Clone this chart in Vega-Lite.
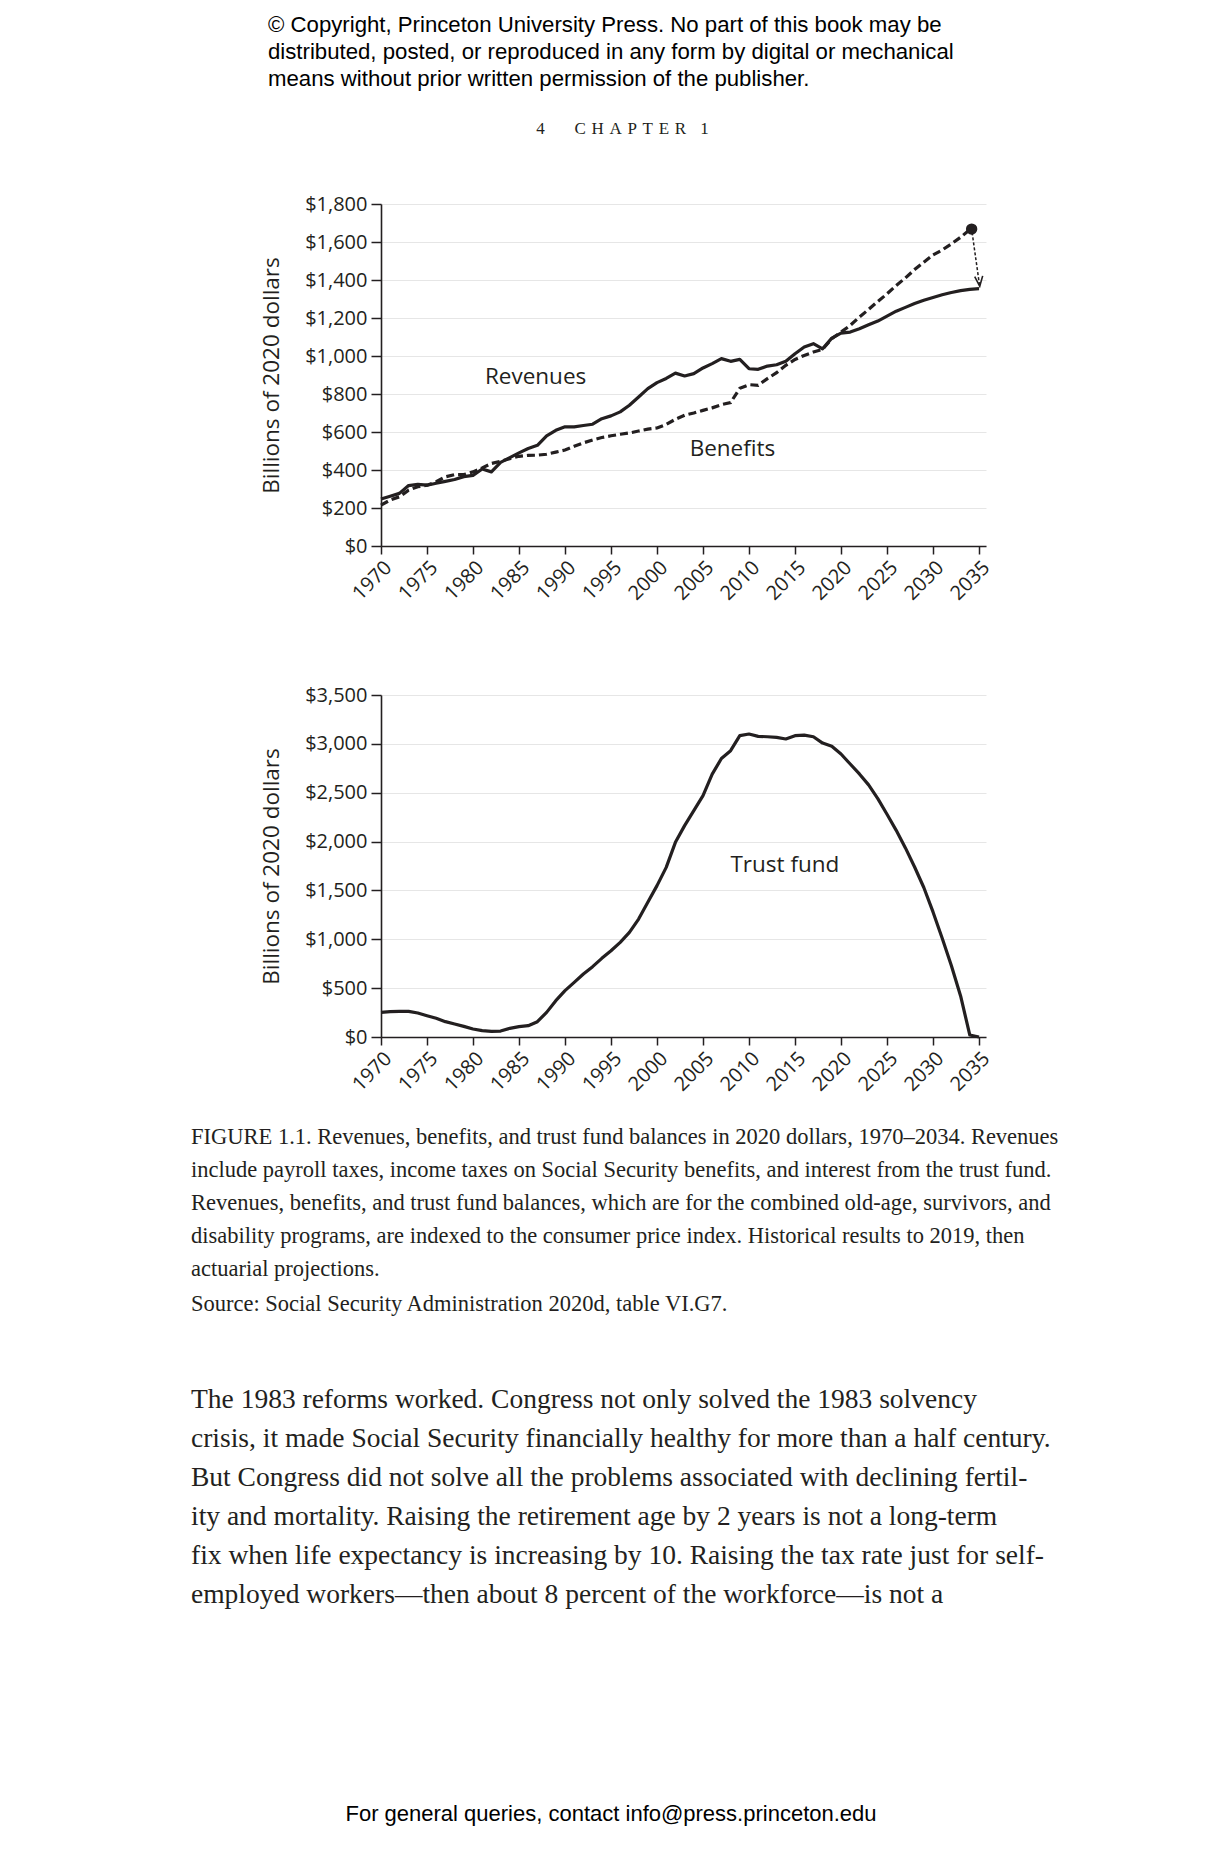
{
  "$schema": "https://vega.github.io/schema/vega-lite/v6.json",
  "background": "white",
  "padding": {"left": 191, "top": 13, "right": 5, "bottom": 5},
  "autosize": {"type": "pad"},
  "config": {
    "view": {"stroke": null},
    "axis": {
      "labelFont": "Open Sans", "labelFontSize": 20, "labelColor": "#231f20",
      "titleFont": "Open Sans", "titleFontSize": 22.5, "titleFontWeight": "normal", "titleColor": "#231f20",
      "domainColor": "#231f20", "domainWidth": 1.6, "tickColor": "#231f20", "tickWidth": 1.5
    }
  },
  "datasets": {
    "revenues": [
      {"year":1970,"value":247},{"year":1971,"value":262},{"year":1972,"value":277},{"year":1973,"value":318},{"year":1974,"value":324},
      {"year":1975,"value":320},{"year":1976,"value":330},{"year":1977,"value":340},{"year":1978,"value":350},{"year":1979,"value":365},
      {"year":1980,"value":372},{"year":1981,"value":405},{"year":1982,"value":390},{"year":1983,"value":440},{"year":1984,"value":465},
      {"year":1985,"value":490},{"year":1986,"value":513},{"year":1987,"value":530},{"year":1988,"value":580},{"year":1989,"value":609},
      {"year":1990,"value":627},{"year":1991,"value":627},{"year":1992,"value":634},{"year":1993,"value":641},{"year":1994,"value":670},
      {"year":1995,"value":685},{"year":1996,"value":706},{"year":1997,"value":741},{"year":1998,"value":784},{"year":1999,"value":828},
      {"year":2000,"value":860},{"year":2001,"value":882},{"year":2002,"value":910},{"year":2003,"value":895},{"year":2004,"value":907},
      {"year":2005,"value":937},{"year":2006,"value":960},{"year":2007,"value":986},{"year":2008,"value":972},{"year":2009,"value":982},
      {"year":2010,"value":933},{"year":2011,"value":930},{"year":2012,"value":947},{"year":2013,"value":954},{"year":2014,"value":972},
      {"year":2015,"value":1012},{"year":2016,"value":1047},{"year":2017,"value":1065},{"year":2018,"value":1038},{"year":2019,"value":1094},
      {"year":2020,"value":1120},{"year":2021,"value":1126},{"year":2022,"value":1143},{"year":2023,"value":1164},{"year":2024,"value":1184},
      {"year":2025,"value":1210},{"year":2026,"value":1236},{"year":2027,"value":1256},{"year":2028,"value":1276},{"year":2029,"value":1293},
      {"year":2030,"value":1308},{"year":2031,"value":1322},{"year":2032,"value":1334},{"year":2033,"value":1344},{"year":2034,"value":1351},
      {"year":2035,"value":1355}
    ],
    "benefits": [
      {"year":1970,"value":215},{"year":1971,"value":242},{"year":1972,"value":259},{"year":1973,"value":294},{"year":1974,"value":312},
      {"year":1975,"value":320},{"year":1976,"value":338},{"year":1977,"value":364},{"year":1978,"value":376},{"year":1979,"value":376},
      {"year":1980,"value":390},{"year":1981,"value":411},{"year":1982,"value":434},{"year":1983,"value":446},{"year":1984,"value":460},
      {"year":1985,"value":472},{"year":1986,"value":477},{"year":1987,"value":478},{"year":1988,"value":483},{"year":1989,"value":494},
      {"year":1990,"value":505},{"year":1991,"value":525},{"year":1992,"value":543},{"year":1993,"value":558},{"year":1994,"value":571},
      {"year":1995,"value":580},{"year":1996,"value":588},{"year":1997,"value":595},{"year":1998,"value":605},{"year":1999,"value":615},
      {"year":2000,"value":621},{"year":2001,"value":640},{"year":2002,"value":667},{"year":2003,"value":688},{"year":2004,"value":700},
      {"year":2005,"value":714},{"year":2006,"value":727},{"year":2007,"value":744},{"year":2008,"value":755},{"year":2009,"value":830},
      {"year":2010,"value":849},{"year":2011,"value":846},{"year":2012,"value":881},{"year":2013,"value":912},{"year":2014,"value":951},
      {"year":2015,"value":982},{"year":2016,"value":1003},{"year":2017,"value":1021},{"year":2018,"value":1035},{"year":2019,"value":1091},
      {"year":2020,"value":1126},{"year":2021,"value":1161},{"year":2022,"value":1205},{"year":2023,"value":1245},{"year":2024,"value":1287},
      {"year":2025,"value":1327},{"year":2026,"value":1371},{"year":2027,"value":1411},{"year":2028,"value":1455},{"year":2029,"value":1494},
      {"year":2030,"value":1532},{"year":2031,"value":1558},{"year":2032,"value":1590},{"year":2033,"value":1625},{"year":2034,"value":1665}
    ],
    "trustfund": [
      {"year":1970,"value":252},{"year":1971,"value":259},{"year":1972,"value":263},{"year":1973,"value":263},{"year":1974,"value":246},
      {"year":1975,"value":218},{"year":1976,"value":191},{"year":1977,"value":157},{"year":1978,"value":133},{"year":1979,"value":109},
      {"year":1980,"value":82},{"year":1981,"value":65},{"year":1982,"value":58},{"year":1983,"value":61},{"year":1984,"value":89},
      {"year":1985,"value":106},{"year":1986,"value":116},{"year":1987,"value":157},{"year":1988,"value":252},{"year":1989,"value":372},
      {"year":1990,"value":474},{"year":1991,"value":559},{"year":1992,"value":645},{"year":1993,"value":720},{"year":1994,"value":805},
      {"year":1995,"value":883},{"year":1996,"value":969},{"year":1997,"value":1071},{"year":1998,"value":1207},{"year":1999,"value":1378},
      {"year":2000,"value":1549},{"year":2001,"value":1736},{"year":2002,"value":1992},{"year":2003,"value":2163},{"year":2004,"value":2316},
      {"year":2005,"value":2470},{"year":2006,"value":2690},{"year":2007,"value":2850},{"year":2008,"value":2930},{"year":2009,"value":3084},
      {"year":2010,"value":3101},{"year":2011,"value":3077},{"year":2012,"value":3073},{"year":2013,"value":3066},{"year":2014,"value":3050},
      {"year":2015,"value":3084},{"year":2016,"value":3090},{"year":2017,"value":3073},{"year":2018,"value":3008},{"year":2019,"value":2975},
      {"year":2020,"value":2896},{"year":2021,"value":2794},{"year":2022,"value":2692},{"year":2023,"value":2580},{"year":2024,"value":2440},
      {"year":2025,"value":2280},{"year":2026,"value":2115},{"year":2027,"value":1935},{"year":2028,"value":1740},{"year":2029,"value":1530},
      {"year":2030,"value":1280},{"year":2031,"value":1010},{"year":2032,"value":730},{"year":2033,"value":420},{"year":2034,"value":20},
      {"year":2035,"value":0}
    ]
  },
  "title": {
    "text": [
      "© Copyright, Princeton University Press. No part of this book may be",
      "distributed, posted, or reproduced in any form by digital or mechanical",
      "means without prior written permission of the publisher."
    ],
    "anchor": "start", "frame": "bounds", "dx": 77, "offset": 29.6,
    "font": "Liberation Sans", "fontSize": 22.2, "fontWeight": "normal", "lineHeight": 27, "color": "#000000"
  },
  "bounds": "flush",
  "spacing": 149,
  "vconcat": [
    {
      "width": 605, "height": 342,
      "title": {
        "text": "4\u2003\u2002\u2005C\u2004H\u2004A\u2004P\u2004T\u2004E\u2004R\u2002\u20041",
        "anchor": "middle", "frame": "group", "dx": -61, "offset": 56.4,
        "font": "Liberation Serif", "fontSize": 17, "fontWeight": "normal", "color": "#231f20"
      },
      "encoding": {
        "x": {"field": "year", "type": "quantitative",
          "scale": {"domain": [1970, 2035.76], "nice": false, "zero": false},
          "axis": {"values": [1970,1975,1980,1985,1990,1995,2000,2005,2010,2015,2020,2025,2030,2035],
            "format": "d", "labelAngle": -45, "title": null, "grid": false, "tickSize": 8, "labelPadding": 3,
            "labelFlush": false, "labelOverlap": false, "labelBound": false}},
        "y": {"field": "value", "type": "quantitative",
          "scale": {"domain": [0, 1800], "nice": false},
          "axis": {"values": [0,200,400,600,800,1000,1200,1400,1600,1800], "format": "$,d",
            "title": "Billions of 2020 dollars", "titlePadding": 21, "grid": true, "gridColor": "#e6e6e6", "gridWidth": 1,
            "tickSize": 10, "labelPadding": 4, "labelFlush": false, "labelOverlap": false, "labelBound": false}}
      },
      "layer": [
        {"data": {"name": "revenues"}, "mark": {"type": "line", "color": "#231f20", "strokeWidth": 3.2, "strokeJoin": "round"}},
        {"data": {"name": "benefits"}, "mark": {"type": "line", "color": "#231f20", "strokeWidth": 3.2, "strokeDash": [8, 4]}},
        {"data": {"values": [{"year": 2034.2, "value": 1668}]}, "mark": {"type": "point", "filled": true, "size": 130, "color": "#231f20", "opacity": 1}},
        {"data": {"values": [{"year": 2034.25, "value": 1650, "year2": 2035.05, "value2": 1375}]},
          "mark": {"type": "rule", "color": "#231f20", "strokeWidth": 1.5, "strokeDash": [3, 2]},
          "encoding": {"x2": {"field": "year2"}, "y2": {"field": "value2"}}},
        {"data": {"values": [{"year": 2035.08, "value": 1367}]},
          "mark": {"type": "point", "shape": "M -0.8 -2 L 0 0 L 0.8 -2", "filled": false, "size": 100, "strokeWidth": 1.6, "color": "#231f20", "angle": -6, "opacity": 1}},
        {"data": {"values": [{"year": 1986.8, "value": 890, "label": "Revenues"}, {"year": 2008.2, "value": 512, "label": "Benefits"}]},
          "mark": {"type": "text", "font": "Open Sans", "fontSize": 22.5, "color": "#231f20", "align": "center", "baseline": "middle"},
          "encoding": {"text": {"field": "label"}}}
      ]
    },
    {
      "bounds": "flush",
      "spacing": 757,
      "vconcat": [
        {
          "width": 605, "height": 342,
          "title": {
            "text": [
              "FIGURE 1.1. Revenues, benefits, and trust fund balances in 2020 dollars, 1970–2034. Revenues",
              "include payroll taxes, income taxes on Social Security benefits, and interest from the trust fund.",
              "Revenues, benefits, and trust fund balances, which are for the combined old-age, survivors, and",
              "disability programs, are indexed to the consumer price index. Historical results to 2019, then",
              "actuarial projections."
            ],
            "subtitle": "Source: Social Security Administration 2020d, table VI.G7.",
            "orient": "bottom", "anchor": "start", "frame": "group", "dx": -190, "offset": 32,
            "font": "Liberation Serif", "fontSize": 22.5, "fontWeight": "normal", "lineHeight": 33, "color": "#231f20",
            "subtitleFont": "Liberation Serif", "subtitleFontSize": 22.5, "subtitleLineHeight": 33, "subtitleColor": "#231f20", "subtitlePadding": 12
          },
          "encoding": {
            "x": {"field": "year", "type": "quantitative",
              "scale": {"domain": [1970, 2035.76], "nice": false, "zero": false},
              "axis": {"values": [1970,1975,1980,1985,1990,1995,2000,2005,2010,2015,2020,2025,2030,2035],
                "format": "d", "labelAngle": -45, "title": null, "grid": false, "tickSize": 8, "labelPadding": 3,
                "labelFlush": false, "labelOverlap": false, "labelBound": false}},
            "y": {"field": "value", "type": "quantitative",
              "scale": {"domain": [0, 3500], "nice": false},
              "axis": {"values": [0,500,1000,1500,2000,2500,3000,3500], "format": "$,d",
                "title": "Billions of 2020 dollars", "titlePadding": 21, "grid": true, "gridColor": "#e6e6e6", "gridWidth": 1,
                "tickSize": 10, "labelPadding": 4, "labelFlush": false, "labelOverlap": false, "labelBound": false}}
          },
          "layer": [
            {"data": {"name": "trustfund"}, "mark": {"type": "line", "color": "#231f20", "strokeWidth": 3.2, "strokeJoin": "round"}},
            {"data": {"values": [{"year": 2013.9, "value": 1760, "label": "Trust fund"}]},
              "mark": {"type": "text", "font": "Open Sans", "fontSize": 22.5, "color": "#231f20", "align": "center", "baseline": "middle"},
              "encoding": {"text": {"field": "label"}}}
          ]
        },
        {
          "width": 460, "height": 40,
          "title": {
            "text": [
              "\u00a0\u00a0\u00a0\u00a0\u00a0The 1983 reforms worked. Congress not only solved the 1983 solvency",
              "crisis, it made Social Security financially healthy for more than a half century.",
              "But Congress did not solve all the problems associated with declining fertil-",
              "ity and mortality. Raising the retirement age by 2 years is not a long-term",
              "fix when life expectancy is increasing by 10. Raising the tax rate just for self-",
              "employed workers—then about 8 percent of the workforce—is not a"
            ],
            "orient": "top", "anchor": "start", "frame": "group", "dx": -190, "offset": 185.3,
            "font": "Liberation Serif", "fontSize": 27.5, "fontWeight": "normal", "lineHeight": 39, "color": "#231f20"
          },
          "data": {"values": [{"note": "For general queries, contact info@press.princeton.edu"}]},
          "mark": {"type": "text", "font": "Liberation Sans", "fontSize": 22, "color": "#000000", "align": "center", "baseline": "middle"},
          "encoding": {"text": {"field": "note"}}
        }
      ]
    }
  ]
}
